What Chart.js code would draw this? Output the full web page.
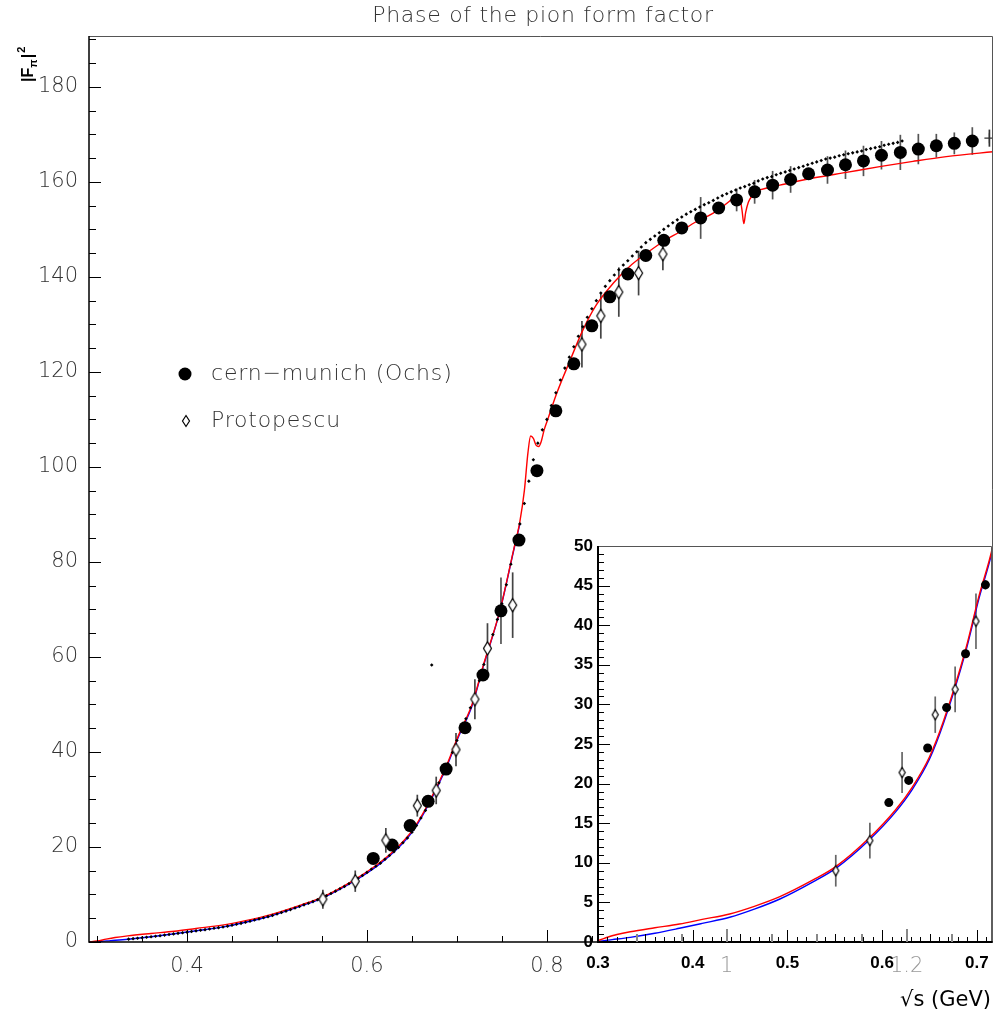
<!DOCTYPE html>
<html>
<head>
<meta charset="utf-8">
<title>Phase of the pion form factor</title>
<script src="https://cdn.jsdelivr.net/npm/chart.js@4.4.1/dist/chart.umd.min.js"></script>
<style>
  body { margin: 0; background: #fff; }
  #wrap { position: relative; width: 1000px; height: 1015px; }
  #main { position: absolute; left: 0; top: 0; }
  #inset { position: absolute; left: 540px; top: 520px; }
</style>
</head>
<body>
<div id="wrap">
  <canvas id="main" width="1000" height="1015"></canvas>
  <canvas id="inset" width="460" height="460"></canvas>
</div>
<script>
/* ============================================================
   Data
   ============================================================ */

// cern-munich (Ochs)
const ochsX = [0.607, 0.628, 0.648, 0.668, 0.688, 0.709, 0.729, 0.749, 0.769, 0.789,
               0.810, 0.830, 0.850, 0.870, 0.890, 0.910, 0.930, 0.950, 0.971, 0.991,
               1.011, 1.031, 1.051, 1.071, 1.091, 1.112, 1.132, 1.152, 1.172, 1.193,
               1.213, 1.233, 1.253, 1.273];
const ochsY = [17.6, 20.4, 24.5, 29.6, 36.4, 45.1, 56.2, 69.7, 84.6, 99.2,
               111.8, 121.7, 129.7, 135.8, 140.6, 144.5, 147.7, 150.3, 152.4, 154.5,
               156.2, 157.9, 159.3, 160.5, 161.7, 162.5, 163.6, 164.4, 165.6, 166.2,
               166.9, 167.6, 168.1, 168.6];
const ochsErr = [0.3, 0.3, 0.4, 0.4, 0.5, 0.6, 0.8, 7.0, 1.0, 1.0,
                 1.0, 1.0, 1.0, 1.0, 1.0, 1.0, 1.2, 1.0, 4.4, 1.2,
                 2.4, 2.5, 3.0, 2.8, 1.2, 2.9, 3.0, 3.2, 3.0, 3.7,
                 3.2, 2.5, 2.3, 2.9];

// Protopescu
const protoX = [0.551, 0.587, 0.621, 0.656, 0.677, 0.699, 0.720, 0.734, 0.762,
                0.839, 0.860, 0.880, 0.902, 0.929];
const protoY = [9.0, 12.8, 21.4, 28.7, 31.9, 40.5, 51.1, 61.8, 70.9,
                125.8, 131.8, 136.8, 140.8, 144.8];
const protoErr = [2.0, 2.25, 2.6, 2.3, 2.9, 3.5, 4.2, 5.3, 6.9,
                  4.9, 4.8, 5.2, 4.7, 3.4];

// dense small-marker set
const dotX = [0.335, 0.340, 0.345, 0.350, 0.355, 0.360, 0.365, 0.370, 0.375, 0.380,
              0.385, 0.390, 0.395, 0.400, 0.405, 0.410, 0.415, 0.420, 0.425, 0.430,
              0.435, 0.440, 0.445, 0.450, 0.455, 0.460, 0.465, 0.470, 0.475, 0.480,
              0.485, 0.490, 0.495, 0.500, 0.505, 0.510, 0.515, 0.520, 0.525, 0.530,
              0.535, 0.540, 0.545, 0.550, 0.555, 0.560, 0.565, 0.570, 0.575, 0.580,
              0.585, 0.590, 0.595, 0.600, 0.605, 0.610, 0.615, 0.620, 0.625, 0.630,
              0.635, 0.640, 0.645, 0.650, 0.655, 0.660, 0.665, 0.670, 0.675, 0.680,
              0.685, 0.690, 0.695, 0.700, 0.705, 0.710, 0.715, 0.720, 0.725, 0.730,
              0.735, 0.740, 0.745, 0.750, 0.755, 0.760, 0.765, 0.770, 0.775, 0.780,
              0.785, 0.790, 0.795,
              0.800, 0.805, 0.810, 0.815, 0.820, 0.825, 0.830, 0.835, 0.840, 0.845,
              0.850, 0.855, 0.860, 0.865, 0.870, 0.875, 0.880, 0.885, 0.890, 0.895,
              0.900, 0.905, 0.910, 0.915, 0.920, 0.925, 0.930, 0.935, 0.940, 0.945,
              0.950, 0.955, 0.960, 0.965, 0.970, 0.975, 0.980, 0.985, 0.990, 0.995,
              1.000, 1.005, 1.010, 1.015, 1.020, 1.025, 1.030, 1.035, 1.040, 1.045,
              1.050, 1.055, 1.060, 1.065, 1.070, 1.075, 1.080, 1.085, 1.090, 1.095,
              1.100, 1.105, 1.110, 1.115, 1.120, 1.125, 1.130, 1.135, 1.140, 1.145,
              1.150, 1.155, 1.160, 1.165, 1.170, 1.175, 1.180, 1.185, 1.190, 1.195,
              0.672];
const dotY = [0.6, 0.7, 0.8, 0.9, 1.0, 1.1, 1.2, 1.3, 1.45, 1.58,
              1.7, 1.82, 1.94, 2.06, 2.2, 2.35, 2.48, 2.6, 2.74, 2.88,
              3.02, 3.15, 3.34, 3.53, 3.73, 3.93, 4.15, 4.38, 4.62, 4.86,
              5.1, 5.34, 5.6, 5.9, 6.2, 6.5, 6.82, 7.15, 7.48, 7.82,
              8.16, 8.5, 8.88, 9.25, 9.72, 10.2, 10.7, 11.2, 11.7, 12.25,
              12.8, 13.4, 14.0, 14.65, 15.3, 15.95, 16.6, 17.4, 18.2, 19.0,
              19.9, 20.9, 21.9, 23.1, 24.5, 26.1, 27.7, 29.6, 31.5, 33.5,
              35.4, 37.5, 39.9, 42.4, 44.9, 47.0, 49.3, 51.7, 55.0, 58.4,
              61.6, 64.7, 67.9, 71.2, 75.2, 79.5, 83.8, 88.0, 92.3, 97.0,
              101.5, 105.0, 107.8,
              110.0, 112.9, 115.6, 118.3, 120.8, 123.1, 125.3, 127.5, 129.5, 131.5,
              133.3, 135.0, 136.6, 138.0, 139.2, 140.4, 141.5, 142.5, 143.4, 144.4,
              145.3, 146.3, 147.2, 147.9, 148.6, 149.3, 150.0, 150.7, 151.4, 152.0,
              152.6, 153.2, 153.7, 154.2, 154.7, 155.2, 155.6, 156.1, 156.6, 157.1,
              157.5, 157.9, 158.3, 158.7, 159.0, 159.4, 159.7, 160.2, 160.6, 160.9,
              161.1, 161.5, 161.8, 162.1, 162.4, 162.7, 163.0, 163.3, 163.6, 163.9,
              164.2, 164.5, 164.8, 165.0, 165.2, 165.5, 165.7, 165.9, 166.1, 166.3,
              166.5, 166.8, 167.0, 167.2, 167.4, 167.7, 167.9, 168.1, 168.3, 168.6,
              58.3];

// single "+" point at the high end
const plusX = [1.292];
const plusY = [169.2];
const plusErr = [1.8];

// model curves
const redX = [0.291, 0.300, 0.310, 0.320, 0.334, 0.360, 0.386, 0.410, 0.439, 0.465,
              0.492, 0.527, 0.551, 0.586, 0.614, 0.632, 0.650, 0.665, 0.688, 0.702,
              0.717, 0.729, 0.748, 0.763, 0.770, 0.775, 0.779, 0.782, 0.785, 0.788,
              0.791, 0.794, 0.797, 0.801, 0.811, 0.826, 0.840, 0.855, 0.874, 0.892,
              0.911, 0.929, 0.948, 0.966, 0.985, 1.003, 1.008, 1.012, 1.015, 1.017,
              1.019, 1.021, 1.024, 1.028, 1.033, 1.045, 1.059, 1.096, 1.133, 1.170,
              1.207, 1.244, 1.299];
const redY = [0, 0.2, 0.6, 0.95, 1.30, 1.8, 2.27, 2.85, 3.54, 4.5,
              5.72, 7.83, 9.51, 13.09, 16.67, 19.6, 23.4, 28.0, 36.9, 43.6,
              50.1, 58.0, 69.9, 82.5, 88.5, 95.0, 103.0, 106.5, 106.0, 104.6,
              104.3, 105.5, 107.8, 110.0, 115.5, 122.5, 128.8, 134.1, 138.7, 142.2,
              145.0, 147.4, 149.5, 151.6, 153.4, 155.9, 156.8, 157.0, 156.2, 154.0,
              151.2, 153.5, 155.7, 157.0, 158.0, 158.7, 159.3, 160.8, 162.0, 163.2,
              164.3, 165.3, 166.4];
const blueX = [0.291, 0.300, 0.315, 0.334, 0.360, 0.386, 0.410, 0.439, 0.465, 0.492,
               0.527, 0.551, 0.586, 0.614, 0.632, 0.650, 0.665, 0.688, 0.702, 0.717,
               0.729, 0.748, 0.763, 0.770];
const blueY = [0, 0.08, 0.3, 0.59, 1.1, 1.73, 2.35, 3.12, 4.15, 5.43,
               7.6, 9.3, 12.85, 16.4, 19.3, 23.1, 27.7, 36.6, 43.3, 49.8,
               57.8, 69.8, 82.3, 88.0];

// axes
const mainXTicks = [0.4, 0.6, 0.8, 1.0, 1.2];
const mainXLabels = ['0.4', '0.6', '0.8', '1', '1.2'];
const mainYTicks = [0, 20, 40, 60, 80, 100, 120, 140, 160, 180];
const insetXTicks = [0.3, 0.4, 0.5, 0.6, 0.7];
const insetXLabels = ['0.3', '0.4', '0.5', '0.6', '0.7'];
const insetYTicks = [0, 5, 10, 15, 20, 25, 30, 35, 40, 45, 50];

const chartTitle = 'Phase of the pion form factor';
const legendNames = ['cern\u2212munich (Ochs)', 'Protopescu'];


/* ============================================================
   Helpers
   ============================================================ */
const pts = (xs, ys) => xs.map((x, i) => ({ x: x, y: ys[i] }));

// open diamond marker, taller than wide
function diamond(w, h) {
    const c = document.createElement('canvas');
    c.width = w + 3;
    c.height = h + 3;
    const g = c.getContext('2d');
    const cx = c.width / 2, cy = c.height / 2;
    g.beginPath();
    g.moveTo(cx, cy - h / 2);
    g.lineTo(cx + w / 2, cy);
    g.lineTo(cx, cy + h / 2);
    g.lineTo(cx - w / 2, cy);
    g.closePath();
    g.fillStyle = '#fff';
    g.fill();
    g.strokeStyle = '#000';
    g.lineWidth = 1.2;
    g.stroke();
    return c;
}

const thinFont = '"DejaVu Sans", "Liberation Sans", sans-serif';
const boldFont = '"Liberation Sans", Arial, sans-serif';

// vertical error bars under the markers
const errorBars = {
    id: 'errorBars',
    beforeDatasetsDraw(chart) {
        const { ctx, chartArea: a, scales: { x, y } } = chart;
        ctx.save();
        ctx.beginPath();
        ctx.rect(a.left, a.top, a.right - a.left, a.bottom - a.top);
        ctx.clip();
        chart.data.datasets.forEach(ds => {
            if (!ds.errors) return;
            ctx.strokeStyle = ds.errorColor || '#555';
            ctx.lineWidth = 1.7;
            ds.data.forEach((p, i) => {
                const px = x.getPixelForValue(p.x);
                ctx.beginPath();
                ctx.moveTo(px, y.getPixelForValue(p.y - ds.errors[i]));
                ctx.lineTo(px, y.getPixelForValue(p.y + ds.errors[i]));
                ctx.stroke();
            });
        });
        ctx.restore();
    }
};

// frame + inward ticks (levels: [step, length], coarse first)
function tickPositions(min, max, levels) {
    const fine = levels[levels.length - 1][0];
    const out = [];
    for (let k = Math.ceil(min / fine - 1e-6); k * fine <= max + 1e-9; k++) {
        const v = k * fine;
        let len = levels[levels.length - 1][1];
        for (const [step, l] of levels) {
            if (Math.abs(v / step - Math.round(v / step)) < 1e-6) { len = l; break; }
        }
        out.push([v, len]);
    }
    return out;
}

const frameTicks = {
    id: 'frameTicks',
    beforeDraw(chart, args, opts) {
        if (!opts.background) return;
        const { ctx, chartArea: a } = chart;
        ctx.save();
        ctx.fillStyle = opts.background;
        ctx.fillRect(a.left, a.top, a.right - a.left, a.bottom - a.top);
        ctx.restore();
    },
    afterDatasetsDraw(chart, args, opts) {
        const { ctx, chartArea: a, scales: { x, y } } = chart;
        ctx.save();
        ctx.strokeStyle = '#000';
        ctx.lineWidth = 1;
        tickPositions(x.min, x.max, opts.xLevels).forEach(([v, len]) => {
            const p = Math.round(x.getPixelForValue(v)) + 0.5;
            ctx.beginPath();
            ctx.moveTo(p, a.bottom);
            ctx.lineTo(p, a.bottom - len);
            ctx.stroke();
        });
        tickPositions(y.min, y.max, opts.yLevels).forEach(([v, len]) => {
            const p = Math.round(y.getPixelForValue(v)) + 0.5;
            ctx.beginPath();
            ctx.moveTo(a.left, p);
            ctx.lineTo(a.left + len, p);
            ctx.stroke();
        });
        // top / right edges
        ctx.strokeStyle = '#555';
        ctx.beginPath();
        ctx.moveTo(a.left, a.top + 0.5);
        ctx.lineTo(a.right - 0.5, a.top + 0.5);
        ctx.lineTo(a.right - 0.5, a.bottom);
        ctx.stroke();
        // axis lines
        ctx.strokeStyle = '#000';
        ctx.lineWidth = opts.axisWidth;
        ctx.beginPath();
        ctx.moveTo(a.left, a.top);
        ctx.lineTo(a.left, a.bottom);
        ctx.lineTo(a.right, a.bottom);
        ctx.stroke();
        ctx.restore();
    }
};

// title, legend, axis titles of the big frame
const annotations = {
    id: 'annotations',
    afterDraw(chart) {
        const ctx = chart.ctx;
        ctx.save();
        ctx.fillStyle = '#333';
        ctx.font = '200 22px ' + thinFont;
        ctx.letterSpacing = '0.7px';
        ctx.textAlign = 'center';
        ctx.textBaseline = 'middle';
        ctx.fillText(chartTitle, 543, 16);

        // legend
        ctx.textAlign = 'left';
        ctx.letterSpacing = '0.8px';
        ctx.fillText(legendNames[0], 211, 374);
        ctx.fillText(legendNames[1], 211, 421);
        ctx.letterSpacing = '0px';
        ctx.fillStyle = '#000';
        ctx.beginPath();
        ctx.arc(185, 374, 6.5, 0, Math.PI * 2);
        ctx.fill();
        const d = diamond(7, 11);
        ctx.drawImage(d, 186 - d.width / 2, 421 - d.height / 2);

        // x axis title
        ctx.font = '21px ' + thinFont;
        ctx.textAlign = 'right';
        ctx.textBaseline = 'alphabetic';
        ctx.fillText('\u221As (GeV)', 991, 1006);

        // y axis title |F_pi|^2, rotated
        ctx.textAlign = 'left';
        ctx.translate(33, 82);
        ctx.rotate(-Math.PI / 2);
        ctx.font = 'bold 16px ' + boldFont;
        ctx.fillText('|F', 0, 0);
        let w = ctx.measureText('|F').width;
        ctx.font = 'bold 11px ' + boldFont;
        ctx.fillText('\u03C0', w, 4);
        w += ctx.measureText('\u03C0').width + 1;
        ctx.font = 'bold 16px ' + boldFont;
        ctx.fillText('|', w, 0);
        w += ctx.measureText('|').width + 1;
        ctx.font = 'bold 11px ' + boldFont;
        ctx.fillText('2', w, -8);
        ctx.restore();
    }
};


/* ============================================================
   Main frame
   ============================================================ */
const mainChart = new Chart(document.getElementById('main'), {
    type: 'scatter',
    data: {
        datasets: [
            {
                label: legendNames[0],
                data: pts(ochsX, ochsY),
                errors: ochsErr,
                pointStyle: 'circle',
                pointRadius: 6.5,
                backgroundColor: '#000',
                borderColor: '#000',
                pointBorderWidth: 0,
                order: 2
            },
            {
                label: legendNames[1],
                data: pts(protoX, protoY),
                errors: protoErr,
                errorColor: '#444',
                pointStyle: diamond(8, 13),
                order: 1
            },
            {
                label: 'dots',
                data: pts(dotX, dotY),
                pointStyle: 'rectRot',
                pointRadius: 1.8,
                backgroundColor: '#000',
                borderColor: '#000',
                pointBorderWidth: 0,
                order: 3
            },
            {
                label: 'plus',
                data: pts(plusX, plusY),
                errors: plusErr,
                errorColor: '#333',
                pointStyle: 'cross',
                pointRadius: 5,
                borderColor: '#333',
                pointBorderWidth: 1.2,
                order: 0
            },
            {
                label: 'red',
                data: pts(redX, redY),
                showLine: true,
                pointRadius: 0,
                borderColor: '#ff0000',
                borderWidth: 1.4,
                cubicInterpolationMode: 'monotone',
                order: 4
            },
            {
                label: 'blue',
                data: pts(blueX, blueY),
                showLine: true,
                pointRadius: 0,
                borderColor: '#0000ff',
                borderWidth: 1.4,
                cubicInterpolationMode: 'monotone',
                order: 5
            }
        ]
    },
    options: {
        responsive: false,
        animation: false,
        devicePixelRatio: 1,
        layout: { padding: { top: 36, right: 7, left: 0, bottom: 0 } },
        plugins: {
            legend: { display: false },
            tooltip: { enabled: false },
            frameTicks: {
                xLevels: [[0.2, 12], [0.05, 6]],
                yLevels: [[20, 12], [5, 7]],
                axisWidth: 1.5
            }
        },
        scales: {
            x: {
                type: 'linear',
                min: 0.291,
                max: 1.296,
                afterBuildTicks: s => { s.ticks = mainXTicks.map(v => ({ value: v })); },
                afterFit: s => { s.height = 73; },
                grid: { display: false, drawTicks: false },
                border: { display: false },
                ticks: {
                    autoSkip: false,
                    maxRotation: 0,
                    padding: 12,
                    font: { family: thinFont, size: 21, weight: '200' },
                    color: c => (c.tick && c.tick.value > 0.9) ? '#999' : '#333',
                    callback: (v, i) => mainXLabels[i]
                }
            },
            y: {
                type: 'linear',
                min: 0,
                max: 190.7,
                afterBuildTicks: s => { s.ticks = mainYTicks.map(v => ({ value: v })); },
                afterFit: s => { s.width = 89; },
                grid: { display: false, drawTicks: false },
                border: { display: false },
                ticks: {
                    autoSkip: false,
                    padding: 11,
                    font: { family: thinFont, size: 21, weight: '200' },
                    color: '#333',
                    callback: v => String(v)
                }
            }
        }
    },
    plugins: [errorBars, frameTicks, annotations]
});


/* ============================================================
   Inset (low energy zoom)
   ============================================================ */
const INSET_LEFT = 540;

// ticks of the big frame seen through the inset
const mainTicksThrough = {
    id: 'mainTicksThrough',
    afterDraw(chart) {
        const { ctx, chartArea: a } = chart;
        const mx = mainChart.scales.x;
        ctx.save();
        ctx.strokeStyle = '#888';
        ctx.lineWidth = 2;
        tickPositions(mx.min, mx.max, [[0.2, 13], [0.05, 8]]).forEach(([v, len]) => {
            const p = Math.round(mx.getPixelForValue(v)) - INSET_LEFT;
            if (p <= a.left + 2 || p >= a.right - 2) return;
            ctx.beginPath();
            ctx.moveTo(p, a.bottom);
            ctx.lineTo(p, a.bottom - len);
            ctx.stroke();
        });
        ctx.restore();
    }
};

new Chart(document.getElementById('inset'), {
    type: 'scatter',
    data: {
        datasets: [
            {
                data: pts(ochsX, ochsY),
                errors: ochsErr,
                pointStyle: 'circle',
                pointRadius: 4.5,
                backgroundColor: '#000',
                borderColor: '#000',
                pointBorderWidth: 0,
                clip: 0,
                order: 2
            },
            {
                data: pts(protoX, protoY),
                errors: protoErr,
                errorColor: '#666',
                pointStyle: diamond(6, 10),
                clip: 0,
                order: 1
            },
            {
                data: pts(redX, redY),
                showLine: true,
                pointRadius: 0,
                borderColor: '#ff0000',
                borderWidth: 1.4,
                cubicInterpolationMode: 'monotone',
                clip: 0,
                order: 4
            },
            {
                data: pts(blueX, blueY),
                showLine: true,
                pointRadius: 0,
                borderColor: '#0000ff',
                borderWidth: 1.4,
                cubicInterpolationMode: 'monotone',
                clip: 0,
                order: 5
            }
        ]
    },
    options: {
        responsive: false,
        animation: false,
        devicePixelRatio: 1,
        layout: { padding: { top: 26, right: 7, left: 0, bottom: 0 } },
        plugins: {
            legend: { display: false },
            tooltip: { enabled: false },
            frameTicks: {
                background: '#fff',
                xLevels: [[0.1, 12], [0.05, 8], [0.01, 5]],
                yLevels: [[5, 12], [1, 6]],
                axisWidth: 2
            }
        },
        scales: {
            x: {
                type: 'linear',
                min: 0.3,
                max: 0.716,
                afterBuildTicks: s => { s.ticks = insetXTicks.map(v => ({ value: v })); },
                afterFit: s => { s.height = 38; },
                grid: { display: false, drawTicks: false },
                border: { display: false },
                ticks: {
                    autoSkip: false,
                    maxRotation: 0,
                    padding: 11,
                    font: { family: boldFont, size: 17, weight: 'bold' },
                    color: '#000',
                    callback: (v, i) => insetXLabels[i]
                }
            },
            y: {
                type: 'linear',
                min: 0,
                max: 50,
                afterBuildTicks: s => { s.ticks = insetYTicks.map(v => ({ value: v })); },
                afterFit: s => { s.width = 58; },
                grid: { display: false, drawTicks: false },
                border: { display: false },
                ticks: {
                    autoSkip: false,
                    padding: 5,
                    font: { family: boldFont, size: 17, weight: 'bold' },
                    color: '#000',
                    callback: v => String(v)
                }
            }
        }
    },
    plugins: [frameTicks, errorBars, mainTicksThrough]
});
</script>
</body>
</html>
